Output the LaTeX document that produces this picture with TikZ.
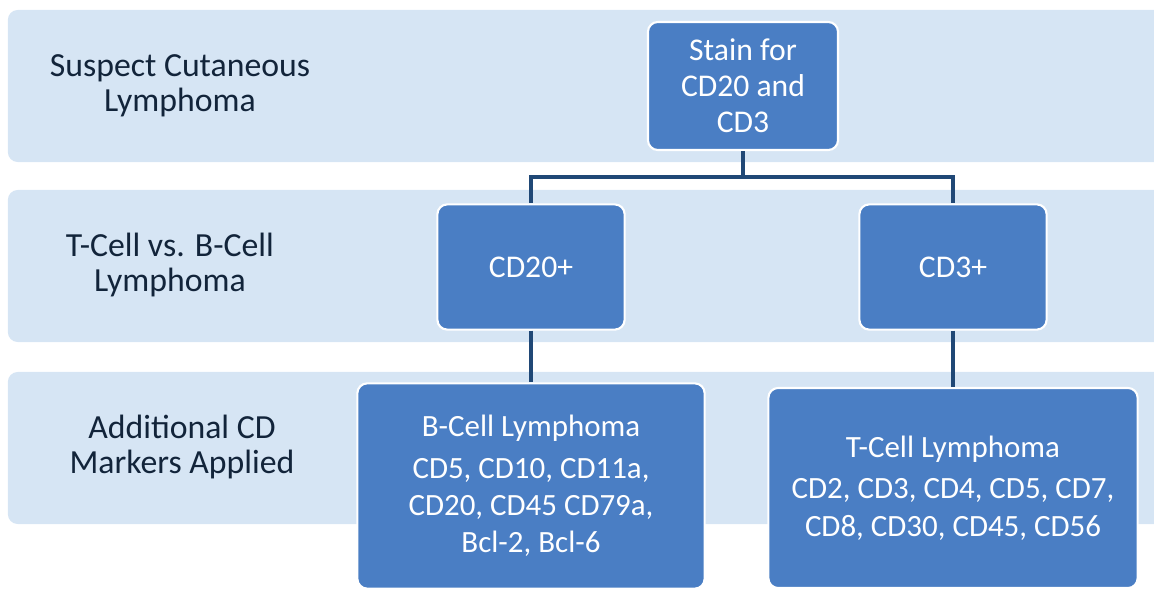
\documentclass[tikz,border=0pt]{standalone}
\usepackage{fontspec}
\setmainfont{Carlito}
\usepackage{xcolor}
\usetikzlibrary{positioning}
\definecolor{bandblue}{RGB}{214,229,244}
\definecolor{boxblue}{RGB}{74,126,196}
\definecolor{linkblue}{RGB}{32,72,118}
\definecolor{labelnavy}{RGB}{18,36,58}

\begin{document}
\begin{tikzpicture}[x=0.025cm, y=-0.025cm,
  band/.style={fill=bandblue, rounded corners=7pt, minimum width=29.5cm, minimum height=3.8cm},
  tier/.style={text=labelnavy, align=center, font=\fontsize{24}{25}\selectfont},
  cbox/.style={draw=white, line width=1.5pt, fill=boxblue, rounded corners=7pt, text=white, align=center, font=\fontsize{22.5}{25.5}\selectfont},
  link/.style={draw=linkblue, line width=2.2pt}]
\useasboundingbox (0,0) rectangle (1154,590);
% background bands
\node[band] (band1) at (598,86) {};
\node[band] (band2) at (598,266) {};
\node[band] (band3) at (598,448) {};
% tier labels
\node[tier] (lab1) at (180,86) {Suspect Cutaneous\\Lymphoma};
\node[tier] (lab2) at (170,265) {T-Cell vs. B-Cell\\Lymphoma};
\node[tier] (lab3) at (182,447) {Additional CD\\Markers Applied};
% boxes
\node[cbox, minimum width=4.75cm, minimum height=3.2cm] (stain) at (743,86) {Stain for\\CD20 and\\CD3};
\node[cbox, minimum width=4.68cm, minimum height=3.13cm] (cdb) at (531,267) {CD20+};
\node[cbox, minimum width=4.68cm, minimum height=3.13cm] (cdt) at (953,267) {CD3+};
\node[cbox, minimum width=8.68cm, minimum height=5.13cm, font=\fontsize{22}{26.5}\selectfont] (bcell) at (531,486)
  {B-Cell Lymphoma\\[3pt]CD5, CD10, CD11a,\\CD20, CD45 CD79a,\\Bcl-2, Bcl-6};
\node[cbox, minimum width=9.23cm, minimum height=5cm, font=\fontsize{22}{26.5}\selectfont] (tcell) at (953,488)
  {T-Cell Lymphoma\\[3pt]CD2, CD3, CD4, CD5, CD7,\\CD8, CD30, CD45, CD56};
% connectors
\coordinate (split) at (743,177);
\draw[link] (stain.south) -- (split) -| (cdb.north);
\draw[link] (split) -| (cdt.north);
\draw[link] (cdb) -- (bcell);
\draw[link] (cdt) -- (tcell);
\end{tikzpicture}
\end{document}
